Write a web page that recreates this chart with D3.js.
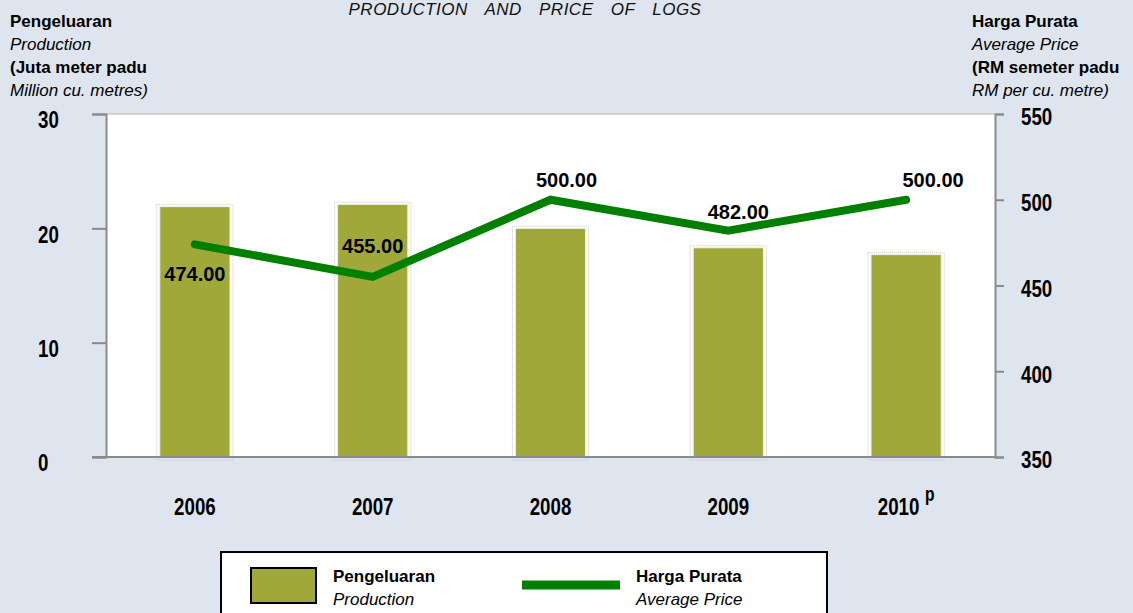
<!DOCTYPE html>
<html>
<head>
<meta charset="utf-8">
<script src="https://cdnjs.cloudflare.com/ajax/libs/d3/7.8.5/d3.min.js"></script>
<style>
  html, body { margin: 0; padding: 0; background: #dee5ef; }
  svg { display: block; }
  .sans { font-family: "Liberation Sans", Arial, sans-serif; }
</style>
</head>
<body>
<div id="chart"></div>
<script>
// data
const years = ['2006', '2007', '2008', '2009', '2010'];
const yearNotes = ['', '', '', '', 'p'];
const production = [21.9, 22.1, 20.0, 18.3, 17.7];   // million cu. metres
const price = [474, 455, 500, 482, 500];             // RM per cu. metre
const leftTicks = [0, 10, 20, 30];
const rightTicks = [350, 400, 450, 500, 550];

// where each price label sits relative to its point (layout only)
const labelOffsets = [[0, 37], [0, -24], [16, -13], [10, -12], [27, -13]];

const width = 1133, height = 613;
const plot = { left: 106, right: 995, top: 114, bottom: 457 };
const squeeze = 0.78;  // the source uses a condensed face for ticks and years

const svg = d3.select('#chart').append('svg')
  .attr('width', width).attr('height', height);

svg.append('rect').attr('width', width).attr('height', height).attr('fill', '#dee5ef');

const x = d3.scaleBand().domain(years).range([plot.left, plot.right]).paddingInner(0.605).paddingOuter(0.3025);
const yLeft = d3.scaleLinear().domain([0, 30]).range([plot.bottom, plot.top]);
const yRight = d3.scaleLinear().domain([350, 550]).range([plot.bottom, plot.top]);

// plot area
svg.append('rect')
  .attr('x', plot.left).attr('y', plot.top)
  .attr('width', plot.right - plot.left).attr('height', plot.bottom - plot.top)
  .attr('fill', '#fff');
svg.append('line')
  .attr('x1', plot.left).attr('x2', plot.right)
  .attr('y1', plot.top).attr('y2', plot.top)
  .attr('stroke', '#c8c8c8').attr('stroke-width', 1.5);

// title, sitting at the very top as in the source
svg.append('text').attr('class', 'sans')
  .attr('x', 525).attr('y', 15)
  .attr('text-anchor', 'middle').attr('font-size', 17).attr('font-style', 'italic')
  .attr('letter-spacing', 0.5).attr('word-spacing', 12).attr('fill', '#111')
  .text('PRODUCTION AND PRICE OF LOGS');

// axis headers
const leftHead = [['Pengeluaran', 'bold', 'normal'], ['Production', 'normal', 'italic'],
  ['(Juta meter padu', 'bold', 'normal'], ['Million cu. metres)', 'normal', 'italic']];
const rightHead = [['Harga Purata', 'bold', 'normal'], ['Average Price', 'normal', 'italic'],
  ['(RM semeter padu', 'bold', 'normal'], ['RM per cu. metre)', 'normal', 'italic']];
function header(lines, xPos) {
  lines.forEach(([t, w, s], i) => {
    svg.append('text').attr('class', 'sans')
      .attr('x', xPos).attr('y', 27 + i * 23)
      .attr('font-size', 17).attr('font-weight', w).attr('font-style', s)
      .attr('fill', '#000')
      .text(t);
  });
}
header(leftHead, 10);
header(rightHead, 972);

// bars
const bars = svg.append('g');
bars.selectAll('rect.shadow').data(production).join('rect')
  .attr('class', 'shadow')
  .attr('x', (d, i) => x(years[i]) - 3)
  .attr('y', (d) => yLeft(d) - 2)
  .attr('width', x.bandwidth() + 6)
  .attr('height', (d) => plot.bottom - yLeft(d) + 5)
  .attr('fill', 'none').attr('stroke', '#c9c9c9').attr('stroke-width', 1)
  .attr('stroke-dasharray', '1,1');
bars.selectAll('rect.bar').data(production).join('rect')
  .attr('class', 'bar')
  .attr('x', (d, i) => x(years[i]))
  .attr('y', (d) => yLeft(d))
  .attr('width', x.bandwidth())
  .attr('height', (d) => plot.bottom - yLeft(d))
  .attr('fill', '#a0a83a').attr('stroke', '#f2f2e6').attr('stroke-width', 1);

// axes
const axisColor = '#8a8a8a';
const leftAxis = svg.append('g').attr('transform', `translate(${plot.left},0)`)
  .call(d3.axisLeft(yLeft).tickValues(leftTicks).tickSize(14).tickFormat(''));
const rightAxis = svg.append('g').attr('transform', `translate(${plot.right},0)`)
  .call(d3.axisRight(yRight).tickValues(rightTicks).tickSize(9).tickFormat(''));
[leftAxis, rightAxis].forEach((a) => {
  a.select('.domain').attr('stroke', axisColor).attr('stroke-width', 2);
  a.selectAll('.tick line').attr('stroke', axisColor).attr('stroke-width', 2);
});
svg.append('line')
  .attr('x1', plot.left - 14).attr('x2', plot.right)
  .attr('y1', plot.bottom).attr('y2', plot.bottom)
  .attr('stroke', axisColor).attr('stroke-width', 2);

svg.append('g').selectAll('text').data(leftTicks).join('text')
  .attr('class', 'sans')
  .attr('transform', (d) => `translate(38,${yLeft(d) + 6}) scale(${squeeze},1)`)
  .attr('dy', '0.35em')
  .attr('font-size', 24).attr('font-weight', 'bold').attr('fill', '#000')
  .text((d) => d);
svg.append('g').selectAll('text').data(rightTicks).join('text')
  .attr('class', 'sans')
  .attr('transform', (d) => `translate(1021,${yRight(d) + 3}) scale(${squeeze},1)`)
  .attr('dy', '0.35em')
  .attr('font-size', 24).attr('font-weight', 'bold').attr('fill', '#000')
  .text((d) => d);

// category labels
const cat = svg.append('g').selectAll('text').data(years).join('text')
  .attr('class', 'sans')
  .attr('transform', (d) => `translate(${x(d) + x.bandwidth() / 2},515) scale(${squeeze},1)`)
  .attr('text-anchor', 'middle')
  .attr('font-size', 24).attr('font-weight', 'bold').attr('fill', '#000');
cat.append('tspan').text((d) => d);
cat.append('tspan')
  .attr('dx', 7).attr('dy', -14).attr('font-size', 20)
  .text((d, i) => yearNotes[i]);

// price line
const line = d3.line()
  .x((d, i) => x(years[i]) + x.bandwidth() / 2)
  .y((d) => yRight(d));
svg.append('path')
  .datum(price)
  .attr('d', line)
  .attr('fill', 'none')
  .attr('stroke', '#008000')
  .attr('stroke-width', 8)
  .attr('stroke-linecap', 'round')
  .attr('stroke-linejoin', 'miter');

svg.append('g').selectAll('text').data(price).join('text')
  .attr('class', 'sans')
  .attr('x', (d, i) => x(years[i]) + x.bandwidth() / 2 + labelOffsets[i][0])
  .attr('y', (d, i) => yRight(d) + labelOffsets[i][1])
  .attr('text-anchor', 'middle')
  .attr('font-size', 20).attr('font-weight', 'bold').attr('fill', '#000')
  .text((d) => d.toFixed(2));

// legend
const legend = svg.append('g');
legend.append('rect')
  .attr('x', 221).attr('y', 552).attr('width', 606).attr('height', 80)
  .attr('fill', '#fff').attr('stroke', '#000').attr('stroke-width', 2);
legend.append('rect')
  .attr('x', 251).attr('y', 568).attr('width', 65).attr('height', 35)
  .attr('fill', '#a0a83a').attr('stroke', '#000').attr('stroke-width', 2);
legend.append('line')
  .attr('x1', 522).attr('x2', 620).attr('y1', 585).attr('y2', 585)
  .attr('stroke', '#008000').attr('stroke-width', 9);
const legendText = [
  [333, 'Pengeluaran', 'Production'],
  [636, 'Harga Purata', 'Average Price']
];
legendText.forEach(([lx, malay, english]) => {
  legend.append('text').attr('class', 'sans')
    .attr('x', lx).attr('y', 582)
    .attr('font-size', 17).attr('font-weight', 'bold')
    .text(malay);
  legend.append('text').attr('class', 'sans')
    .attr('x', lx).attr('y', 605)
    .attr('font-size', 17).attr('font-style', 'italic')
    .text(english);
});
</script>
</body>
</html>
